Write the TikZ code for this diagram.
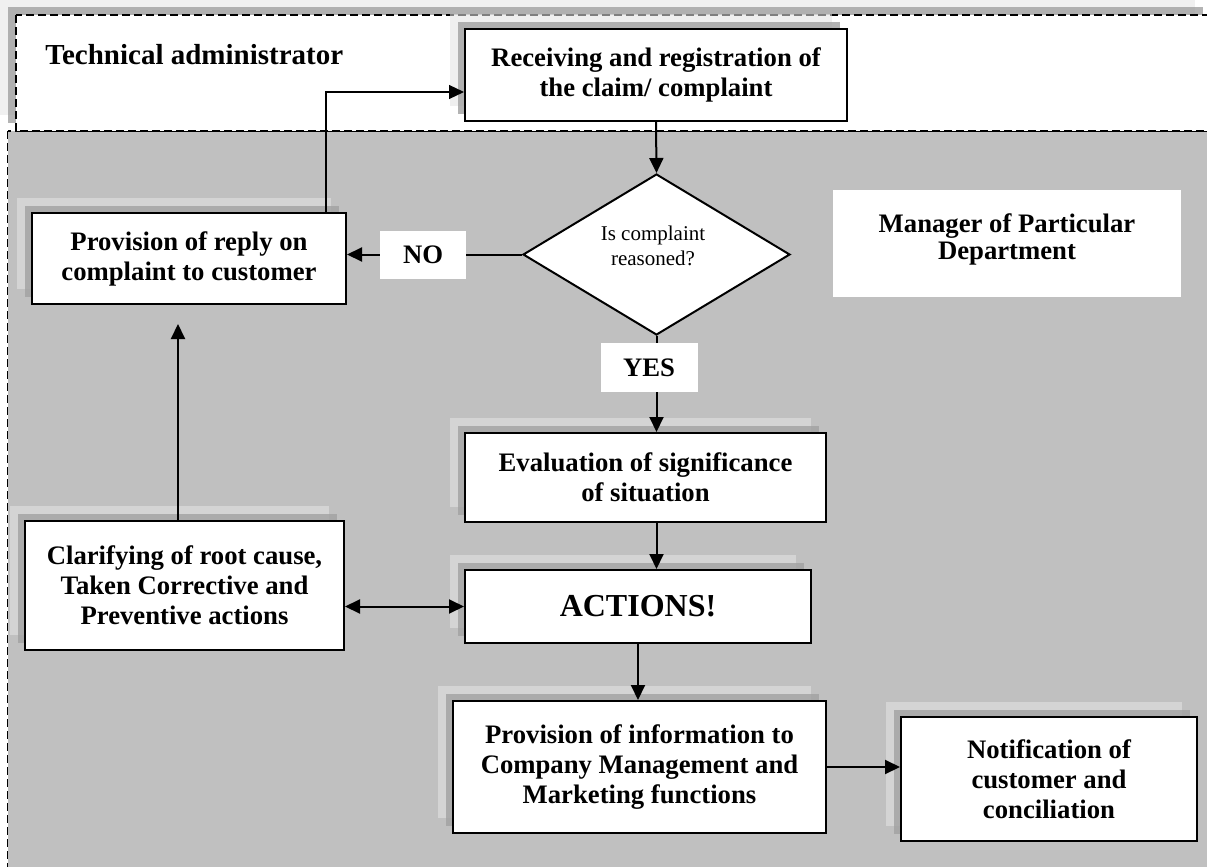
\documentclass[tikz,border=0pt]{standalone}
\usepackage{fontspec}
\setmainfont{Liberation Serif}
\usetikzlibrary{shadows}
\usetikzlibrary{arrows.meta,shapes.geometric}
\usetikzlibrary{calc}
\definecolor{lanegray}{RGB}{192,192,192}
\definecolor{shadelight}{RGB}{228,228,228}
\definecolor{shadedark}{RGB}{162,162,162}
\tikzstyle{stepbox}=[rectangle,draw,line width=1pt,fill=white,align=center,inner sep=0pt,
  font=\fontsize{13.35}{15}\selectfont\bfseries,
  general shadow={fill=shadelight,fill opacity=.56,shadow xshift=-7.5pt,shadow yshift=7.5pt},
  general shadow={fill=shadedark,fill opacity=.81,shadow xshift=-3.75pt,shadow yshift=3.75pt}]
\tikzstyle{decision}=[diamond,draw,line width=1pt,fill=white,inner sep=0pt,
  minimum width=133.5pt,minimum height=80.5pt]
\tikzstyle{tag}=[rectangle,fill=white,inner sep=0pt,font=\fontsize{13.35}{15}\selectfont\bfseries]
\tikzstyle{edge}=[draw,line width=1pt,-{Triangle[length=7.5pt,width=7pt]}]
\tikzstyle{twoway}=[draw,line width=1pt,{Triangle[length=7.5pt,width=7pt]}-{Triangle[length=7.5pt,width=7pt]}]
\tikzstyle{lane}=[draw,line width=.75pt,dash pattern=on 4pt off 2pt]

\begin{document}
\begin{tikzpicture}[x=0.5pt,y=-0.5pt]
  \useasboundingbox (0,0) rectangle (1207,867);

  % swim lanes
  \path[lane,fill=lanegray] (7.5,131) rectangle (1230,890);
  \path[lane,fill=white,
    general shadow={fill=shadelight,fill opacity=.56,shadow xshift=-8pt,shadow yshift=8pt},
    general shadow={fill=shadedark,fill opacity=.81,shadow xshift=-4pt,shadow yshift=4pt}]
    (16,15) rectangle (1211,131);

  \node[anchor=base west,inner sep=0pt,font=\fontsize{14.5}{17}\selectfont\bfseries] (techlbl)
    at (45,64) {Technical administrator};
  \node[tag,minimum width=174pt,minimum height=53.5pt] (mgr) at (1007,243.5) {};
  \node[anchor=north,inner sep=0pt,align=center,font=\fontsize{13.35}{13.5}\selectfont\bfseries] (mgrtext)
    at (1007,213) {Manager of Particular\\Department};

  % process boxes
  \foreach \pos/\name/\bw/\bh/\txt in {
    {(656,75)/recv/191pt/46pt/{Receiving and registration of\\the claim/ complaint}},
    {(189,258.5)/reply/157pt/45.5pt/{Provision of reply on\\complaint to customer}},
    {(645.5,477.5)/eval/180.5pt/44.5pt/{Evaluation of significance\\of situation}},
    {(638,606.5)/actions/173pt/36.5pt/{\fontsize{16}{19}\selectfont ACTIONS!}},
    {(184.5,585.5)/clarif/159.5pt/64.5pt/{Clarifying of root cause,\\Taken Corrective and\\Preventive actions}},
    {(639.5,767)/info/186.5pt/66pt/{Provision of information to\\Company Management and\\Marketing functions}},
    {(1049,779)/notif/148pt/62pt/{Notification of\\customer and\\conciliation}}}
    \node[stepbox,minimum width=\bw,minimum height=\bh] (\name) at \pos {\txt};

  \node[decision] (dec) at (656.5,254.5) {};
  \node[align=center,inner sep=0pt,font=\fontsize{10.5}{12.5}\selectfont] (dectext)
    at (653,246) {Is complaint\\reasoned?};

  % connectors
  \coordinate (turn) at (326,92);
  \path[edge,line width=.6pt] (reply.north -| turn) -- (turn) -- (turn -| recv.west);
  \path[edge] (recv.south) -- (dec.north);
  \path[edge] (dec.west) -- node[tag,pos=.565,minimum width=43pt,minimum height=24pt] (no) {NO}
    (dec.west -| reply.east);
  \path[edge] (dec.south) -- node[tag,pos=.33,xshift=-3.75pt,minimum width=48.5pt,minimum height=24.5pt] (yes) {YES}
    (dec.south |- eval.north);
  \path[edge] (eval.south -| dec.south) -- (actions.north -| dec.south);
  \path[edge] (actions.south) -- (actions.south |- info.north);
  \path[edge] (info.east) -- (info.east -| notif.west);
  \path[edge] (clarif.north -| 178,0) -- ([yshift=-9.5pt]reply.south -| 178,0);
  \path[twoway] (actions.west) -- (actions.west -| clarif.east);
\end{tikzpicture}
\end{document}
